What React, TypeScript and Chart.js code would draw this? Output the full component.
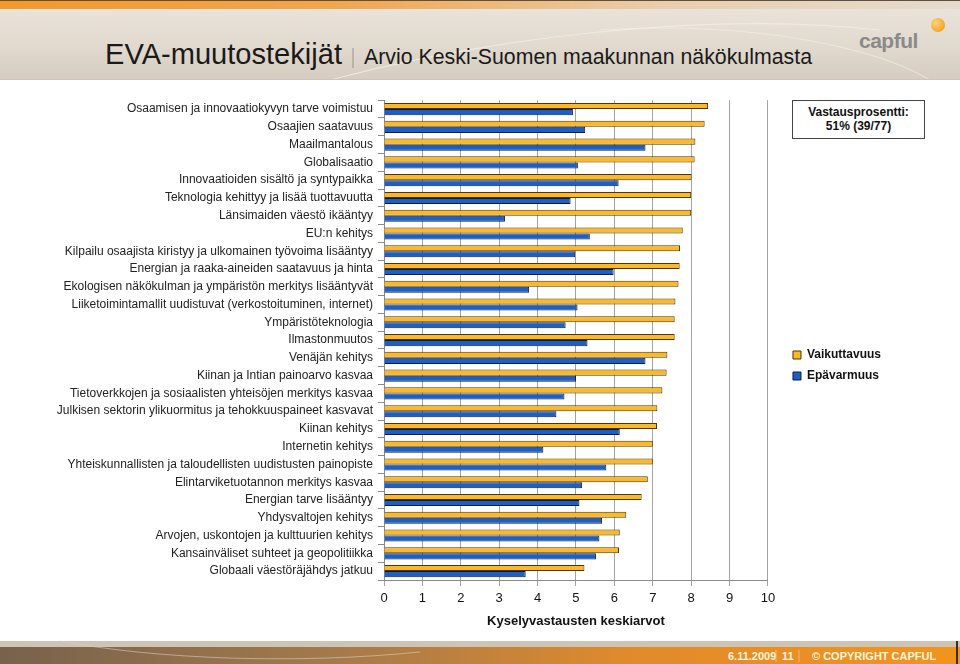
import React, { useEffect, useRef } from "react";
import { Chart, registerables } from "chart.js";

Chart.register(...registerables);

const categories = [
  "Osaamisen ja innovaatiokyvyn tarve voimistuu",
  "Osaajien saatavuus",
  "Maailmantalous",
  "Globalisaatio",
  "Innovaatioiden sisältö ja syntypaikka",
  "Teknologia kehittyy ja lisää tuottavuutta",
  "Länsimaiden väestö ikääntyy",
  "EU:n kehitys",
  "Kilpailu osaajista kiristyy ja ulkomainen työvoima lisääntyy",
  "Energian ja raaka-aineiden saatavuus ja hinta",
  "Ekologisen näkökulman ja ympäristön merkitys lisääntyvät",
  "Liiketoimintamallit uudistuvat (verkostoituminen, internet)",
  "Ympäristöteknologia",
  "Ilmastonmuutos",
  "Venäjän kehitys",
  "Kiinan ja Intian painoarvo kasvaa",
  "Tietoverkkojen ja sosiaalisten yhteisöjen merkitys kasvaa",
  "Julkisen sektorin ylikuormitus ja tehokkuuspaineet kasvavat",
  "Kiinan kehitys",
  "Internetin kehitys",
  "Yhteiskunnallisten ja taloudellisten uudistusten painopiste",
  "Elintarviketuotannon merkitys kasvaa",
  "Energian tarve lisääntyy",
  "Yhdysvaltojen kehitys",
  "Arvojen, uskontojen ja kulttuurien kehitys",
  "Kansainväliset suhteet ja geopolitiikka",
  "Globaali väestöräjähdys jatkuu",
];

const vaikuttavuus = [
  8.44, 8.35, 8.11, 8.09, 8.01, 8.0, 8.0, 7.78, 7.71, 7.7, 7.67, 7.59, 7.57,
  7.57, 7.38, 7.36, 7.25, 7.12, 7.11, 7.0, 7.0, 6.87, 6.71, 6.31, 6.14, 6.12,
  5.22,
];

const epavarmuus = [
  4.92, 5.24, 6.81, 5.05, 6.11, 4.86, 3.15, 5.36, 4.98, 5.98, 3.78, 5.04, 4.73,
  5.3, 6.81, 5.0, 4.7, 4.49, 6.14, 4.15, 5.79, 5.16, 5.09, 5.68, 5.61, 5.52,
  3.69,
];

const seriesLabels = ["Vaikuttavuus", "Epävarmuus"];
const xTickLabels = ["0", "1", "2", "3", "4", "5", "6", "7", "8", "9", "10"];
const xTitle = "Kyselyvastausten keskiarvot";

const FONT = "'Liberation Sans', Arial, Helvetica, sans-serif";

const shiftLegend = {
  id: "shiftLegend",
  afterLayout(chart: any) {
    const lg = chart.legend;
    if (!lg) return;
    const dx = 16;
    const dy = 0;
    lg.left += dx;
    lg.right += dx;
    lg.top += dy;
    lg.bottom += dy;
  },
};

function BarChart() {
  const ref = useRef<HTMLCanvasElement | null>(null);
  useEffect(() => {
    if (!ref.current) return;
    Chart.defaults.font.family = FONT;
    const chart = new Chart(ref.current, {
      type: "bar",
      data: {
        labels: categories,
        datasets: [
          {
            label: seriesLabels[0],
            data: vaikuttavuus,
            backgroundColor: "#FBB829",
            borderColor: "#4d3600",
            borderWidth: 1,
            categoryPercentage: 0.68,
            barPercentage: 1,
          },
          {
            label: seriesLabels[1],
            data: epavarmuus,
            backgroundColor: "#1E5FC6",
            borderColor: "#0a1c45",
            borderWidth: 1,
            categoryPercentage: 0.68,
            barPercentage: 1,
          },
        ],
      },
      options: {
        indexAxis: "y",
        animation: false,
        responsive: false,
        maintainAspectRatio: false,
        layout: { padding: { top: 10, bottom: 3, left: 0, right: 85 } },
        plugins: {
          legend: {
            position: "right",
            labels: {
              boxWidth: 8,
              boxHeight: 8,
              padding: 9,
              color: "#111",
              font: { size: 12, weight: "bold", family: FONT },
            },
          },
          tooltip: { enabled: false },
        },
        scales: {
          x: {
            min: 0,
            max: 10,
            ticks: {
              stepSize: 1,
              color: "#111",
              padding: 5,
              font: { size: 13, family: FONT },
              callback: (_v: any, i: number) => xTickLabels[i],
            },
            grid: {
              color: "#a3a3a3",
              tickColor: "#a3a3a3",
              tickLength: 6,
              lineWidth: 1,
            },
            border: { color: "#8a8a8a" },
            title: {
              display: true,
              text: xTitle,
              color: "#111",
              font: { size: 13, weight: "bold", family: FONT },
            },
            afterFit: (s: any) => {
              s.height = 53;
            },
          },
          y: {
            ticks: {
              color: "#222",
              padding: 5,
              autoSkip: false,
              font: { size: 12, family: FONT },
            },
            grid: {
              drawOnChartArea: false,
              offset: true,
              tickLength: 6,
              color: "#8a8a8a",
            },
            border: { color: "#8a8a8a" },
            afterFit: (s: any) => {
              s.width = 384;
            },
          },
        },
      } as any,
      plugins: [shiftLegend],
    });
    return () => chart.destroy();
  }, []);
  return (
    <canvas
      ref={ref}
      width={960}
      height={548}
      style={{ position: "absolute", left: 0, top: 88, width: 960, height: 548 }}
    />
  );
}

export default function App() {
  return (
    <div
      style={{
        position: "fixed",
        left: 0,
        top: 0,
        width: 960,
        height: 664,
        background: "#fff",
        overflow: "hidden",
        fontFamily: FONT,
      }}
    >
      <svg
        width={960}
        height={664}
        style={{ position: "absolute", left: 0, top: 0 }}
      >
        <defs>
          <linearGradient id="hdrBg" x1="0" y1="0" x2="0" y2="1">
            <stop offset="0" stopColor="#ebe5dc" />
            <stop offset="0.6" stopColor="#e1d9ce" />
            <stop offset="1" stopColor="#d6ccbf" />
          </linearGradient>
          <linearGradient id="hdrStrip" x1="0" y1="0" x2="1" y2="0">
            <stop offset="0" stopColor="#f39a28" />
            <stop offset="0.35" stopColor="#f2a64c" />
            <stop offset="0.7" stopColor="#e9cfae" />
            <stop offset="1" stopColor="#e5dbcd" />
          </linearGradient>
          <linearGradient id="ftr" x1="0" y1="0" x2="1" y2="0">
            <stop offset="0" stopColor="#77624c" />
            <stop offset="0.35" stopColor="#a47a4c" />
            <stop offset="0.65" stopColor="#e08a2c" />
            <stop offset="1" stopColor="#f3941c" />
          </linearGradient>
          <radialGradient id="dot" cx="0.35" cy="0.35" r="0.7">
            <stop offset="0" stopColor="#ffd27a" />
            <stop offset="1" stopColor="#f5a21f" />
          </radialGradient>
        </defs>
        {/* header */}
        <rect x={0} y={0} width={960} height={80} fill="url(#hdrBg)" />
        <rect x={0} y={0} width={960} height={9} fill="url(#hdrStrip)" />
        <rect x={0} y={0} width={960} height={1} fill="#5e4f40" />
        <path
          d="M 330 80 C 480 40, 700 10, 880 30"
          stroke="#f4f0ea"
          strokeWidth={1.2}
          fill="none"
          opacity={0.7}
        />
        <path
          d="M 600 30 C 760 20, 880 50, 930 80"
          stroke="#f4f0ea"
          strokeWidth={1.2}
          fill="none"
          opacity={0.6}
        />
        <rect x={0} y={79} width={960} height={1} fill="#cfc5b7" />
        <text
          x={105}
          y={64}
          fontFamily={FONT}
          fontSize={30}
          fill="#1a1a1a"
          textLength={237}
          lengthAdjust="spacingAndGlyphs"
        >
          EVA-muutostekijät
        </text>
        <line x1={353} y1={48} x2={353} y2={68} stroke="#9a9188" strokeWidth={1} />
        <text
          x={364}
          y={64}
          fontFamily={FONT}
          fontSize={22.5}
          fill="#1a1a1a"
          textLength={448}
          lengthAdjust="spacingAndGlyphs"
        >
          Arvio Keski-Suomen maakunnan näkökulmasta
        </text>
        <text
          x={859}
          y={48}
          fontFamily={FONT}
          fontSize={21}
          fontWeight="bold"
          fill="#8a8a8a"
          letterSpacing={-0.5}
        >
          capful
        </text>
        <circle cx={938} cy={25} r={7} fill="url(#dot)" />
        {/* footer */}
        <rect x={0} y={641} width={960} height={6} fill="#cdc4b8" />
        <rect x={0} y={647} width={960} height={17} fill="url(#ftr)" />
        <path
          d="M 60 641 C 160 660, 300 664, 420 652"
          stroke="#d8cdbf"
          strokeWidth={1}
          fill="none"
          opacity={0.6}
        />
        <rect x={956} y={641} width={2} height={23} fill="#3b2d20" />
        <g fontFamily={FONT} fontSize={11} fontWeight="bold" fill="#fff4df">
          <text x={728} y={660}>6.11.2009</text>
          <text x={782} y={660}>11</text>
          <text x={812} y={660}>© COPYRIGHT CAPFUL</text>
        </g>
        <line x1={776} y1={650} x2={776} y2={662} stroke="#f8c27a" strokeWidth={0.8} />
        <line x1={799} y1={650} x2={799} y2={662} stroke="#f8c27a" strokeWidth={0.8} />
      </svg>
      <BarChart />
      <div
        style={{
          position: "absolute",
          left: 792,
          top: 100,
          width: 131,
          border: "1px solid #444",
          background: "#fff",
          fontFamily: FONT,
          fontSize: 12,
          fontWeight: "bold",
          color: "#111",
          textAlign: "center",
          lineHeight: "14px",
          boxSizing: "content-box",
          paddingTop: 4,
          height: 33,
        }}
      >
        <div>Vastausprosentti:</div>
        <div>51% (39/77)</div>
      </div>
    </div>
  );
}
